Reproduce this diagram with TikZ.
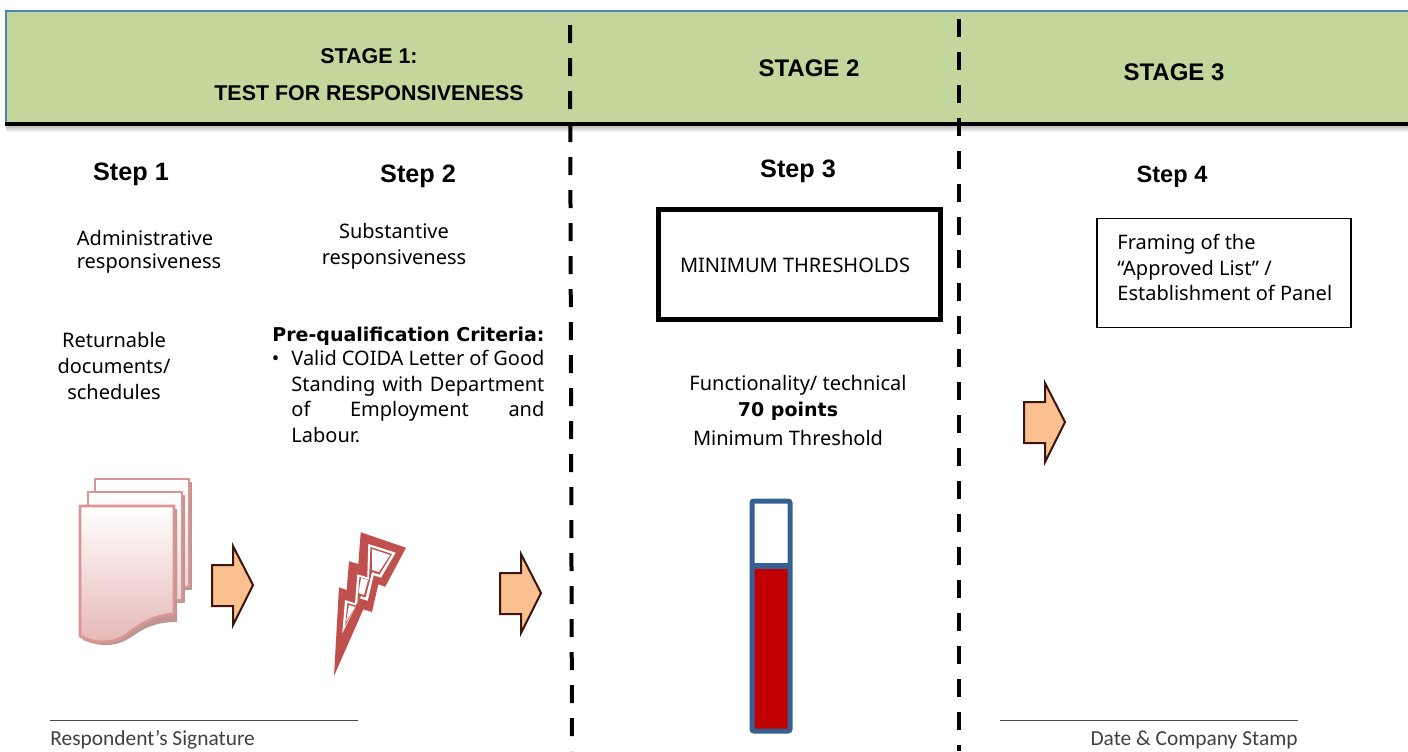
\documentclass[tikz,border=0pt]{standalone}
\usepackage{fontspec}
\setmainfont{Noto Sans}
\newfontfamily\headfont{Liberation Sans}
\newfontfamily\signfont{Carlito}
\newfontfamily\boldfont{DejaVu Sans}
\usetikzlibrary{positioning}
\definecolor{headgreen}{HTML}{C3D69B}
\definecolor{headblue}{HTML}{4F81BD}
\definecolor{arroworange}{HTML}{FAC090}
\definecolor{arrowedge}{HTML}{3B1510}
\definecolor{sheetedge}{HTML}{D99694}
\definecolor{sheetfill}{HTML}{E6B8B7}
\definecolor{sheetshadow}{HTML}{C09494}
\definecolor{boltred}{HTML}{C0504D}
\definecolor{meterblue}{HTML}{376092}
\definecolor{meterred}{HTML}{C00000}
\def\stageLabels{{(369,56)/stageone/STAGE 1:}, {(369,93)/stagetest/TEST FOR RESPONSIVENESS}}
\def\stageBig{{(809,68)/stagetwo/STAGE 2}, {(1174,72)/stagethree/STAGE 3}}
\def\stepLabels{{(131,174)/stepone/Step 1}, {(418,176)/steptwo/Step 2}, {(798,171)/stepthree/Step 3}}
\def\blockArrows{212/585, 500/593, 1024/422}
\def\sheetStack{95/479, 88/492}
\tikzstyle{stage label}=[font=\headfont\bfseries\fontsize{10.7}{13}\selectfont,inner sep=0pt]
\tikzstyle{stage big}=[font=\headfont\bfseries\fontsize{12}{14}\selectfont,inner sep=0pt]
\tikzstyle{step label}=[font=\headfont\bfseries\fontsize{12.6}{15}\selectfont,inner sep=0pt]
\tikzstyle{body}=[font=\fontsize{10}{12.8}\selectfont,inner sep=0pt,align=center]
\tikzstyle{body bold}=[font=\boldfont\bfseries\fontsize{9.5}{12.8}\selectfont,inner sep=0pt]
\tikzstyle{stage divider}=[draw,black,line width=2pt,dash pattern=on 9pt off 7.5pt]
\tikzstyle{block arrow}=[draw=arrowedge,fill=arroworange,line width=1pt,line join=miter]
\tikzstyle{sheet}=[draw=sheetedge,line width=1.4pt]
\tikzstyle{sign line}=[draw,black!70,line width=0.5pt]
\tikzstyle{sign text}=[font=\signfont\fontsize{10.7}{12}\selectfont,text=black!75,inner sep=0pt]

\begin{document}
\begin{tikzpicture}[x=0.5pt,y=-0.5pt]
  \useasboundingbox (0,0) rectangle (1408,751);

  % The green band and its rule
  \fill[headgreen] (6,11) rectangle (1408,123);
  \draw[headblue,line width=0.6pt] (6,123) -- (6,11) -- (1408,11);
  \shade[top color=black!25,bottom color=white] (6,126) rectangle (1408,132);
  \draw[black,line width=2pt] (5,124) -- (1408,124);

  % The stage and step titles
  \foreach \pos/\name/\txt in \stageLabels {
    \node[stage label] (\name) at \pos {\txt};
    }
  \foreach \pos/\name/\txt in \stageBig {
    \node[stage big] (\name) at \pos {\txt};
    }
  \foreach \pos/\name/\txt in \stepLabels {
    \node[step label] (\name) at \pos {\txt};
    }
  \node[step label,font=\headfont\bfseries\fontsize{11.8}{15}\selectfont] (stepfour) at (1172,177) {Step 4};

  % The stage dividers
  \coordinate (dividerAtop) at (570,25);
  \coordinate (dividerAend) at (572,751);
  \coordinate (dividerBtop) at (959,19);
  \coordinate (dividerBend) at (959,751);
  \path[stage divider] (dividerAtop) -- (dividerAend);
  \path[stage divider] (dividerBtop) -- (dividerBend);

  % Text of the steps
  \node[body] (adminText) at (145,238) {Administrative};
  \node[body] (adminTextTwo) at (149,264) {responsiveness};
  \node[body] (returnText) at (114,366) {Returnable\\documents/\\schedules};
  \node[body] (substText) at (394,246) {Substantive\\responsiveness};
  \node[body bold,anchor=west] (criteriaHead) at (272,336) {Pre-qualification Criteria:};
  \node[body,anchor=north west,align=justify,text width=126.5pt] (criteriaText) at (291,350) {\llap{\textbullet\hspace{6pt}}Valid COIDA Letter of Good\linebreak Standing with Department\linebreak of Employment and\linebreak Labour.};
  \node[body,draw=black,line width=2.5pt,minimum width=141pt,minimum height=54.7pt] (thresholdBox) at (799,264.5) {};
  \node[body] (thresholdText) at (795,265) {MINIMUM THRESHOLDS};
  \node[body] (functionText) at (788,385) {\hspace*{10pt}Functionality/ technical};
  \node[body bold] (pointsText) at (788,411) {70 points};
  \node[body] (minimumText) at (788,438) {Minimum Threshold};
  \node[draw=black,line width=0.8pt,minimum width=127pt,minimum height=54.5pt,inner sep=0pt] (panelBox) at (1224,273) {};
  \node[body,align=left,anchor=north west] (panelText) at (1117,234) {Framing of the\\``Approved List'' /\\Establishment of Panel};

  % The block arrows
  \foreach \px/\py in \blockArrows {
    \begin{scope}[shift={(\px,\py)}]
      \draw[block arrow] (0,-20) -- (21,-20) -- (21,-39) -- (41,0) -- (21,40) -- (21,21) -- (0,21) -- cycle;
    \end{scope}
    }

  % The stack of sheets
  \foreach \px/\py in \sheetStack {
    \begin{scope}[shift={(\px,\py)}]
      \fill[sheetshadow] (3,3) rectangle (97,111);
      \path[sheet,top color=white,bottom color=sheetfill!60] (0,0) rectangle (94,108);
    \end{scope}
    }
  \fill[sheetshadow] (83,509) -- (177,509) -- (177,622) .. controls (135,622) and (135,645) .. (106,645) .. controls (98,645) and (90,643) .. (83,640) -- cycle;
  \path[sheet,top color=white,bottom color=sheetfill] (80,506) -- (174,506) -- (174,614) .. controls (132,618) and (132,642) .. (103,642) .. controls (95,642) and (87,640) .. (80,636) -- cycle;

  % The lightning bolt
  \fill[boltred] (360.7,532.3) -- (406,547.7) -- (385.3,586.7) -- (378.3,584.3) -- (372,612) -- (363.3,609.3) -- (334,676) -- (339,587.3) -- (346.7,590) -- (349,561.3) -- (358.3,564) -- cycle;
  \fill[white] (368.3,544) -- (395.7,552.7) -- (381,577.7) -- (373.7,575.3) -- (367.7,600.7) -- (359.7,598.3) -- (342.3,633.3) -- (345,600) -- (355,603.3) -- (357.3,574.3) -- (367.3,577.3) -- cycle;
  \fill[boltred] (370.5,547) -- (392,554) -- (379.5,574.5) -- (372,572) -- (365.5,597.5) -- (361,596) -- (345,626) -- (347.5,603) -- (357,606) -- (359.5,577) -- (369,580) -- cycle;
  \fill[white] (372,549) -- (390,555) -- (379,572) -- (372,570) -- cycle;
  \fill[white] (361,578) -- (368,580) -- (364,595) -- (358.5,593) -- cycle;
  \fill[white] (349,605) -- (355,607) -- (346,622) -- cycle;

  % The thermometer
  \fill[meterred] (752,566) rectangle (790,730);
  \draw[meterblue,line width=2.5pt,rounded corners=1pt] (752,501) rectangle (790,731);
  \draw[meterblue,line width=3pt] (750,566) -- (792,566);

  % The signature lines
  \coordinate (signAleft) at (50,720);
  \coordinate (signAright) at (358,720);
  \coordinate (signBleft) at (1000,720);
  \coordinate (signBright) at (1298,720);
  \path[sign line] (signAleft) -- (signAright);
  \path[sign line] (signBleft) -- (signBright);
  \node[sign text,anchor=base west] (respondentText) at (50,745) {Respondent’s Signature};
  \node[sign text,anchor=base east] (stampText) at (1298,745) {Date \& Company Stamp};
\end{tikzpicture}
\end{document}
